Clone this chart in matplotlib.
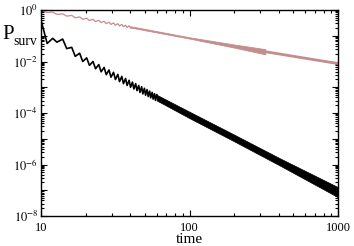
import matplotlib
matplotlib.use("Agg")
import matplotlib.pyplot as plt
import numpy as np
from matplotlib.ticker import LogLocator, FuncFormatter, NullFormatter

plt.rcParams['font.family'] = ['Liberation Serif', 'DejaVu Serif']
plt.rcParams['mathtext.fontset'] = 'stix'

# black curve: early zigzag (time, log10 P)
t_black = [10.0, 11.0, 12.0, 12.8, 14.0, 14.9, 16.1, 17.0, 18.2, 19.1, 20.3,
           21.2, 22.4, 23.3, 24.5, 25.4, 26.6, 27.5, 28.7, 29.6, 30.8, 31.7,
           32.9, 33.8, 35.0, 35.9, 37.1, 38.0, 39.2, 40.1, 41.3, 42.2, 43.4,
           44.3, 45.5, 46.4, 47.6, 48.5, 49.7, 50.6, 51.8, 52.7, 53.9, 54.8,
           56.0, 56.9, 58.1, 59.0, 60.2]
logp_black = [-0.39, -1.30, -1.10, -1.25, -1.13, -1.50, -1.45, -1.80, -1.68,
              -2.00, -1.86, -2.15, -2.00, -2.28, -2.12, -2.40, -2.23, -2.51,
              -2.33, -2.61, -2.42, -2.70, -2.50, -2.78, -2.58, -2.86, -2.66,
              -2.93, -2.73, -3.00, -2.80, -3.07, -2.86, -3.13, -2.93, -3.20,
              -2.98, -3.26, -3.04, -3.31, -3.09, -3.36, -3.15, -3.41, -3.20,
              -3.46, -3.25, -3.51, -3.29]
# black curve: dense part, upper / lower edges of the oscillation band
t_black_band = [60, 100, 200, 400, 1000]
logp_black_hi = [-3.29, -3.95, -4.84, -5.74, -6.88]
logp_black_lo = [-3.51, -4.20, -5.10, -6.02, -7.27]

# red curve: early zigzag
t_red = [10.0, 11.0, 12.0, 12.8, 14.0, 14.9, 16.1, 17.0, 18.2, 19.1, 20.3,
         21.2, 22.4, 23.3, 24.5, 25.4, 26.6, 27.5, 28.7, 29.6, 30.8, 31.7,
         32.9, 33.8, 35.0, 35.9, 37.1, 38.0, 39.2, 40.1]
logp_red = [0.0, -0.10, -0.08, -0.17, -0.15, -0.24, -0.21, -0.30, -0.27,
            -0.36, -0.32, -0.41, -0.36, -0.45, -0.40, -0.49, -0.44, -0.53,
            -0.47, -0.56, -0.50, -0.59, -0.53, -0.62, -0.56, -0.65, -0.59,
            -0.68, -0.61, -0.70]
t_red_band = [40, 100, 200, 324]
logp_red_hi = [-0.63, -1.06, -1.34, -1.52]
logp_red_lo = [-0.68, -1.11, -1.46, -1.72]
# red smooth tail
t_red_tail = [300, 324, 1000]
logp_red_tail = [-1.58, -1.62, -2.08]

red = '#c48c8c'

fig = plt.figure(figsize=(3.54, 2.46), dpi=100)
ax = fig.add_axes([41/354, 30/246, 297/354, 206/246])

ax.plot(t_black, 10**np.array(logp_black), color='black', lw=1.2)
ax.fill_between(t_black_band, 10**np.array(logp_black_lo), 10**np.array(logp_black_hi),
                color='black', lw=0.5, edgecolor='black')

ax.plot(t_red_tail, 10**np.array(logp_red_tail), color=red, lw=2.0)
ax.plot(t_red, 10**np.array(logp_red), color=red, lw=0.9)
ax.fill_between(t_red_band, 10**np.array(logp_red_lo), 10**np.array(logp_red_hi),
                color=red, lw=0.6, edgecolor=red)

ax.set_xscale('log')
ax.set_yscale('log')
ax.set_xlim(10, 1000)
ax.set_ylim(1e-8, 1)

ax.xaxis.set_major_locator(LogLocator(base=10, numticks=10))
ax.xaxis.set_minor_locator(LogLocator(base=10, subs=np.arange(2, 10), numticks=20))
ax.xaxis.set_major_formatter(FuncFormatter(lambda v, p: f'{int(round(v))}'))
ax.xaxis.set_minor_formatter(NullFormatter())

ax.yaxis.set_major_locator(LogLocator(base=10, numticks=20))
ax.yaxis.set_minor_locator(LogLocator(base=10, subs=np.arange(2, 10), numticks=20))


def yfmt(v, p):
    e = int(round(np.log10(v)))
    if e % 2:
        return ''
    return r'$10^{%d}$' % e


ax.yaxis.set_major_formatter(FuncFormatter(yfmt))
ax.yaxis.set_minor_formatter(NullFormatter())

ax.tick_params(which='both', direction='in', top=True, right=True,
               labelsize=9, width=0.8)
ax.tick_params(which='major', length=4, pad=2)
ax.tick_params(axis='x', which='major', pad=4)
ax.tick_params(which='minor', length=2)
for s in ax.spines.values():
    s.set_linewidth(1.0)

ax.set_xlabel('time', fontsize=11, labelpad=-0.5)
fig.text(2/354, 1 - 39/246, 'P', fontsize=15, ha='left', va='baseline')
fig.text(13/354, 1 - 45/246, 'surv', fontsize=10, ha='left', va='baseline')

fig.savefig('out.png', dpi=100)
